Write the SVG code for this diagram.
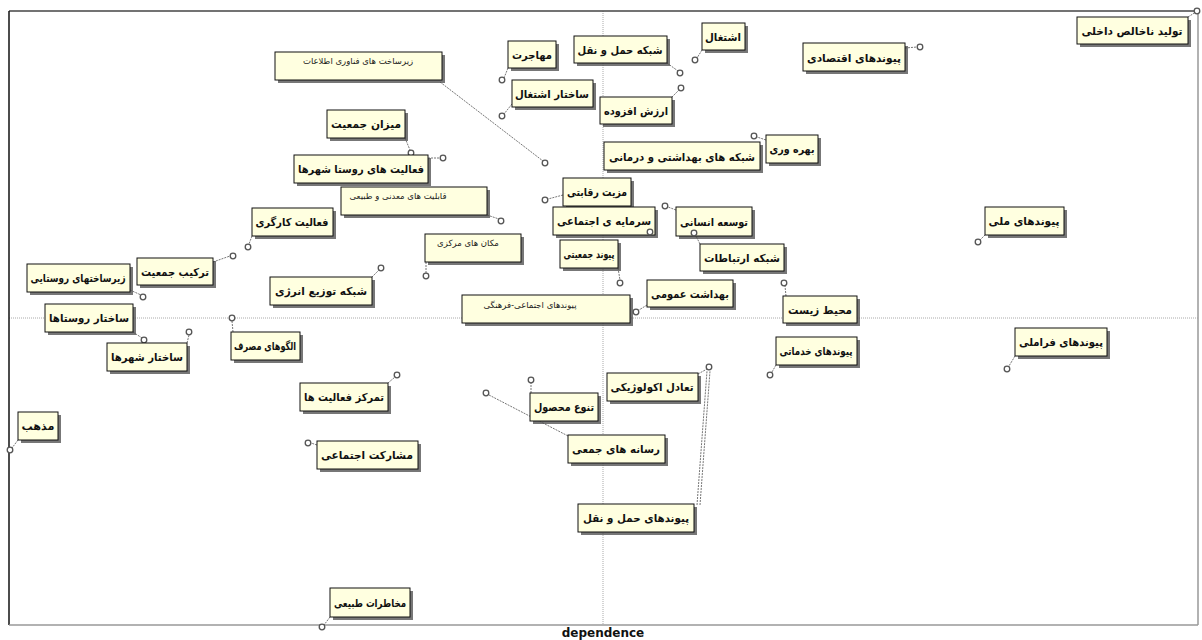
<svg xmlns="http://www.w3.org/2000/svg" width="1202" height="640" viewBox="0 0 1202 640">
<style>
.sh{fill:#4a4a4a;opacity:.75}
.bx{fill:#ffffe0;stroke:#111;stroke-width:1}
.t{font-family:"DejaVu Sans",sans-serif;font-size:11px;font-weight:bold;fill:#111;text-anchor:middle;direction:rtl}
.ts{font-family:"DejaVu Sans",sans-serif;font-size:8.5px;fill:#222;text-anchor:middle;direction:rtl}
.pt{fill:#fff;stroke:#555;stroke-width:1.3}
.cn{stroke:#777;stroke-width:1;stroke-dasharray:2 1;fill:none}
.ax{stroke:#aaa;stroke-width:1;stroke-dasharray:1 1}
</style>
<rect width="1202" height="640" fill="#fff"/>
<g id="frame">
<line class="ax" x1="603" y1="11" x2="603" y2="625"/>
<line class="ax" x1="9" y1="318" x2="1198" y2="318"/>
<line x1="9" y1="11" x2="1198" y2="11" stroke="#444" stroke-width="1.3"/>
<line x1="9" y1="11" x2="9" y2="625" stroke="#111" stroke-width="1.5"/>
<line x1="9" y1="625" x2="1198" y2="625" stroke="#999" stroke-width="1.5"/>
<line x1="1198" y1="11" x2="1198" y2="625" stroke="#999" stroke-width="1.5"/>
<text x="603" y="637" style="font-family:'DejaVu Sans',sans-serif;font-size:12px;font-weight:bold;text-anchor:middle;fill:#111">dependence</text>
</g>
<g id="connectors">
<line class="cn" x1="1188" y1="17" x2="1196" y2="12"/>
<line class="cn" x1="905" y1="48" x2="917" y2="47"/>
<line class="cn" x1="702" y1="50" x2="697" y2="58"/>
<line class="cn" x1="667" y1="63" x2="678" y2="71"/>
<line class="cn" x1="672" y1="97" x2="679" y2="90"/>
<line class="cn" x1="508" y1="68" x2="504" y2="78"/>
<line class="cn" x1="512" y1="104" x2="504" y2="114"/>
<line class="cn" x1="440" y1="82" x2="543" y2="161"/>
<line class="cn" x1="766" y1="140" x2="757" y2="137"/>
<line class="cn" x1="405" y1="138" x2="410" y2="150"/>
<line class="cn" x1="428" y1="158" x2="440" y2="158"/>
<line class="cn" x1="487" y1="215" x2="499" y2="219"/>
<line class="cn" x1="563" y1="195" x2="548" y2="199"/>
<line class="cn" x1="676" y1="210" x2="668" y2="207"/>
<line class="cn" x1="700" y1="244" x2="696" y2="236"/>
<line class="cn" x1="786" y1="296" x2="785" y2="286"/>
<line class="cn" x1="618" y1="268" x2="620" y2="280"/>
<line class="cn" x1="647" y1="305" x2="639" y2="310"/>
<line class="cn" x1="426" y1="262" x2="426" y2="273"/>
<line class="cn" x1="372" y1="277" x2="379" y2="270"/>
<line class="cn" x1="252" y1="236" x2="249" y2="244"/>
<line class="cn" x1="213" y1="262" x2="230" y2="256"/>
<line class="cn" x1="130" y1="290" x2="141" y2="295"/>
<line class="cn" x1="133" y1="332" x2="142" y2="338"/>
<line class="cn" x1="187" y1="343" x2="189" y2="335"/>
<line class="cn" x1="233" y1="332" x2="232" y2="321"/>
<line class="cn" x1="18" y1="440" x2="12" y2="448"/>
<line class="cn" x1="388" y1="383" x2="395" y2="377"/>
<line class="cn" x1="317" y1="445" x2="311" y2="443"/>
<line class="cn" x1="531" y1="393" x2="531" y2="383"/>
<line class="cn" x1="489" y1="395" x2="570" y2="437"/>
<line class="cn" x1="698" y1="374" x2="707" y2="369"/>
<line class="cn" x1="697" y1="505" x2="707" y2="371"/>
<line class="cn" x1="700" y1="505" x2="710" y2="371"/>
<line class="cn" x1="776" y1="365" x2="772" y2="372"/>
<line class="cn" x1="985" y1="235" x2="980" y2="240"/>
<line class="cn" x1="1015" y1="356" x2="1009" y2="366"/>
<line class="cn" x1="330" y1="617" x2="324" y2="625"/>
</g>
<g id="n1"><rect class="sh" x="1080" y="20" width="111" height="27"/><rect class="bx" x="1077" y="17" width="111" height="27"/><text class="t" x="1132" y="35" textLength="101" lengthAdjust="spacingAndGlyphs">تولید ناخالص داخلی</text><circle class="pt" cx="1197" cy="11" r="2.8"/></g>
<g id="n2"><rect class="sh" x="806" y="46" width="102" height="28"/><rect class="bx" x="803" y="43" width="102" height="28"/><text class="t" x="854" y="62" textLength="94" lengthAdjust="spacingAndGlyphs">پیوندهای اقتصادی</text><circle class="pt" cx="920" cy="47" r="2.8"/></g>
<g id="n3"><rect class="sh" x="705" y="26" width="43" height="27"/><rect class="bx" x="702" y="23" width="43" height="27"/><text class="t" x="723" y="41" textLength="36" lengthAdjust="spacingAndGlyphs">اشتغال</text><circle class="pt" cx="695" cy="60" r="2.8"/></g>
<g id="n4"><rect class="sh" x="577" y="39" width="93" height="27"/><rect class="bx" x="574" y="36" width="93" height="27"/><text class="t" x="620" y="54" textLength="85" lengthAdjust="spacingAndGlyphs">شبکه حمل و نقل</text><circle class="pt" cx="680" cy="73" r="2.8"/></g>
<g id="n5"><rect class="sh" x="603" y="100" width="72" height="27"/><rect class="bx" x="600" y="97" width="72" height="27"/><text class="t" x="636" y="115" textLength="64" lengthAdjust="spacingAndGlyphs">ارزش افزوده</text><circle class="pt" cx="681" cy="88" r="2.8"/></g>
<g id="n6"><rect class="sh" x="511" y="44" width="48" height="27"/><rect class="bx" x="508" y="41" width="48" height="27"/><text class="t" x="532" y="59" textLength="40" lengthAdjust="spacingAndGlyphs">مهاجرت</text><circle class="pt" cx="502" cy="80" r="2.8"/></g>
<g id="n7"><rect class="sh" x="515" y="83" width="81" height="27"/><rect class="bx" x="512" y="80" width="81" height="27"/><text class="t" x="552" y="98" textLength="74" lengthAdjust="spacingAndGlyphs">ساختار اشتغال</text><circle class="pt" cx="502" cy="116" r="2.8"/></g>
<g id="n8"><rect class="sh" x="278" y="55" width="167" height="28"/><rect class="bx" x="275" y="52" width="167" height="28"/><text class="ts" x="358" y="64">زیرساخت های فناوری اطلاعات</text><circle class="pt" cx="545" cy="163" r="2.8"/></g>
<g id="n9"><rect class="sh" x="769" y="138" width="52" height="28"/><rect class="bx" x="766" y="135" width="52" height="28"/><text class="t" x="792" y="153" textLength="45" lengthAdjust="spacingAndGlyphs">بهره وری</text><circle class="pt" cx="754" cy="136" r="2.8"/></g>
<g id="n10"><rect class="sh" x="607" y="145" width="156" height="28"/><rect class="bx" x="604" y="142" width="156" height="28"/><text class="t" x="682" y="161" textLength="146" lengthAdjust="spacingAndGlyphs">شبکه های بهداشتی و درمانی</text></g>
<g id="n11"><rect class="sh" x="330" y="113" width="78" height="28"/><rect class="bx" x="327" y="110" width="78" height="28"/><text class="t" x="366" y="128" textLength="70" lengthAdjust="spacingAndGlyphs">میزان جمعیت</text><circle class="pt" cx="411" cy="153" r="2.8"/></g>
<g id="n12"><rect class="sh" x="297" y="158" width="134" height="28"/><rect class="bx" x="294" y="155" width="134" height="28"/><text class="t" x="361" y="173" textLength="126" lengthAdjust="spacingAndGlyphs">فعالیت های روستا شهرها</text><circle class="pt" cx="443" cy="158" r="2.8"/></g>
<g id="n13"><rect class="sh" x="344" y="190" width="146" height="28"/><rect class="bx" x="341" y="187" width="146" height="28"/><text class="ts" x="398" y="199">قابلیت های معدنی و طبیعی</text><circle class="pt" cx="501" cy="221" r="2.8"/></g>
<g id="n14"><rect class="sh" x="566" y="181" width="68" height="28"/><rect class="bx" x="563" y="178" width="68" height="28"/><text class="t" x="597" y="196" textLength="60" lengthAdjust="spacingAndGlyphs">مزیت رقابتی</text><circle class="pt" cx="545" cy="200" r="2.8"/></g>
<g id="n15"><rect class="sh" x="556" y="210" width="102" height="28"/><rect class="bx" x="553" y="207" width="102" height="28"/><text class="t" x="604" y="225" textLength="94" lengthAdjust="spacingAndGlyphs">سرمایه ی اجتماعی</text><circle class="pt" cx="650" cy="232" r="2.8"/></g>
<g id="n16"><rect class="sh" x="679" y="210" width="76" height="29"/><rect class="bx" x="676" y="207" width="76" height="29"/><text class="t" x="714" y="226" textLength="68" lengthAdjust="spacingAndGlyphs">توسعه انسانی</text><circle class="pt" cx="665" cy="206" r="2.8"/></g>
<g id="n17"><rect class="sh" x="703" y="247" width="84" height="27"/><rect class="bx" x="700" y="244" width="84" height="27"/><text class="t" x="742" y="262" textLength="76" lengthAdjust="spacingAndGlyphs">شبکه ارتباطات</text><circle class="pt" cx="694" cy="233" r="2.8"/></g>
<g id="n18"><rect class="sh" x="786" y="299" width="74" height="27"/><rect class="bx" x="783" y="296" width="74" height="27"/><text class="t" x="820" y="314" textLength="64" lengthAdjust="spacingAndGlyphs">محیط زیست</text><circle class="pt" cx="784" cy="283" r="2.8"/></g>
<g id="n19"><rect class="sh" x="563" y="243" width="58" height="28"/><rect class="bx" x="560" y="240" width="58" height="28"/><text class="t" x="589" y="258" textLength="51" lengthAdjust="spacingAndGlyphs">پیوند جمعیتی</text><circle class="pt" cx="620" cy="283" r="2.8"/></g>
<g id="n20"><rect class="sh" x="650" y="283" width="86" height="27"/><rect class="bx" x="647" y="280" width="86" height="27"/><text class="t" x="690" y="298" textLength="78" lengthAdjust="spacingAndGlyphs">بهداشت عمومی</text><circle class="pt" cx="636" cy="312" r="2.8"/></g>
<g id="n21"><rect class="sh" x="465" y="298" width="168" height="28"/><rect class="bx" x="462" y="295" width="168" height="28"/><text class="ts" x="530" y="308">پیوندهای اجتماعی-فرهنگی</text></g>
<g id="n22"><rect class="sh" x="428" y="237" width="96" height="28"/><rect class="bx" x="425" y="234" width="96" height="28"/><text class="ts" x="468" y="246">مکان های مرکزی</text><circle class="pt" cx="426" cy="276" r="2.8"/></g>
<g id="n23"><rect class="sh" x="273" y="280" width="102" height="28"/><rect class="bx" x="270" y="277" width="102" height="28"/><text class="t" x="321" y="295" textLength="92" lengthAdjust="spacingAndGlyphs">شبکه توزیع انرژی</text><circle class="pt" cx="381" cy="268" r="2.8"/></g>
<g id="n24"><rect class="sh" x="255" y="211" width="81" height="28"/><rect class="bx" x="252" y="208" width="81" height="28"/><text class="t" x="292" y="226" textLength="73" lengthAdjust="spacingAndGlyphs">فعالیت کارگری</text><circle class="pt" cx="248" cy="247" r="2.8"/></g>
<g id="n25"><rect class="sh" x="140" y="261" width="76" height="27"/><rect class="bx" x="137" y="258" width="76" height="27"/><text class="t" x="175" y="276" textLength="68" lengthAdjust="spacingAndGlyphs">ترکیب جمعیت</text><circle class="pt" cx="233" cy="256" r="2.8"/></g>
<g id="n26"><rect class="sh" x="30" y="267" width="103" height="28"/><rect class="bx" x="27" y="264" width="103" height="28"/><text class="t" x="78" y="282" textLength="95" lengthAdjust="spacingAndGlyphs">زیرساختهای روستایی</text><circle class="pt" cx="143" cy="297" r="2.8"/></g>
<g id="n27"><rect class="sh" x="48" y="307" width="88" height="28"/><rect class="bx" x="45" y="304" width="88" height="28"/><text class="t" x="89" y="322" textLength="80" lengthAdjust="spacingAndGlyphs">ساختار روستاها</text><circle class="pt" cx="144" cy="340" r="2.8"/></g>
<g id="n28"><rect class="sh" x="110" y="346" width="80" height="28"/><rect class="bx" x="107" y="343" width="80" height="28"/><text class="t" x="147" y="361" textLength="72" lengthAdjust="spacingAndGlyphs">ساختار شهرها</text><circle class="pt" cx="189" cy="332" r="2.8"/></g>
<g id="n29"><rect class="sh" x="234" y="335" width="69" height="28"/><rect class="bx" x="231" y="332" width="69" height="28"/><text class="t" x="265" y="350" textLength="62" lengthAdjust="spacingAndGlyphs">الگوهای مصرف</text><circle class="pt" cx="232" cy="318" r="2.8"/></g>
<g id="n30"><rect class="sh" x="21" y="415" width="40" height="28"/><rect class="bx" x="18" y="412" width="40" height="28"/><text class="t" x="38" y="430" textLength="33" lengthAdjust="spacingAndGlyphs">مذهب</text><circle class="pt" cx="10" cy="450" r="2.8"/></g>
<g id="n31"><rect class="sh" x="303" y="386" width="88" height="28"/><rect class="bx" x="300" y="383" width="88" height="28"/><text class="t" x="344" y="401" textLength="80" lengthAdjust="spacingAndGlyphs">تمرکز فعالیت ها</text><circle class="pt" cx="397" cy="375" r="2.8"/></g>
<g id="n32"><rect class="sh" x="320" y="444" width="101" height="28"/><rect class="bx" x="317" y="441" width="101" height="28"/><text class="t" x="367" y="459" textLength="92" lengthAdjust="spacingAndGlyphs">مشارکت اجتماعی</text><circle class="pt" cx="308" cy="443" r="2.8"/></g>
<g id="n33"><rect class="sh" x="533" y="396" width="68" height="28"/><rect class="bx" x="530" y="393" width="68" height="28"/><text class="t" x="564" y="411" textLength="60" lengthAdjust="spacingAndGlyphs">تنوع محصول</text><circle class="pt" cx="531" cy="380" r="2.8"/></g>
<g id="n34"><rect class="sh" x="571" y="438" width="97" height="28"/><rect class="bx" x="568" y="435" width="97" height="28"/><text class="t" x="616" y="453" textLength="88" lengthAdjust="spacingAndGlyphs">رسانه های جمعی</text><circle class="pt" cx="486" cy="393" r="2.8"/></g>
<g id="n35"><rect class="sh" x="610" y="376" width="91" height="28"/><rect class="bx" x="607" y="373" width="91" height="28"/><text class="t" x="652" y="391" textLength="83" lengthAdjust="spacingAndGlyphs">تعادل اکولوژیکی</text><circle class="pt" cx="709" cy="367" r="2.8"/></g>
<g id="n36"><rect class="sh" x="581" y="507" width="116" height="28"/><rect class="bx" x="578" y="504" width="116" height="28"/><text class="t" x="636" y="522" textLength="106" lengthAdjust="spacingAndGlyphs">پیوندهای حمل و نقل</text></g>
<g id="n37"><rect class="sh" x="779" y="340" width="81" height="28"/><rect class="bx" x="776" y="337" width="81" height="28"/><text class="t" x="816" y="355" textLength="73" lengthAdjust="spacingAndGlyphs">پیوندهای خدماتی</text><circle class="pt" cx="770" cy="375" r="2.8"/></g>
<g id="n38"><rect class="sh" x="988" y="210" width="79" height="28"/><rect class="bx" x="985" y="207" width="79" height="28"/><text class="t" x="1024" y="225" textLength="71" lengthAdjust="spacingAndGlyphs">پیوندهای ملی</text><circle class="pt" cx="978" cy="242" r="2.8"/></g>
<g id="n39"><rect class="sh" x="1018" y="331" width="92" height="28"/><rect class="bx" x="1015" y="328" width="92" height="28"/><text class="t" x="1061" y="346" textLength="84" lengthAdjust="spacingAndGlyphs">پیوندهای فراملی</text><circle class="pt" cx="1007" cy="369" r="2.8"/></g>
<g id="n40"><rect class="sh" x="333" y="591" width="80" height="29"/><rect class="bx" x="330" y="588" width="80" height="29"/><text class="t" x="370" y="607" textLength="72" lengthAdjust="spacingAndGlyphs">مخاطرات طبیعی</text><circle class="pt" cx="322" cy="627" r="2.8"/></g>
</svg>
